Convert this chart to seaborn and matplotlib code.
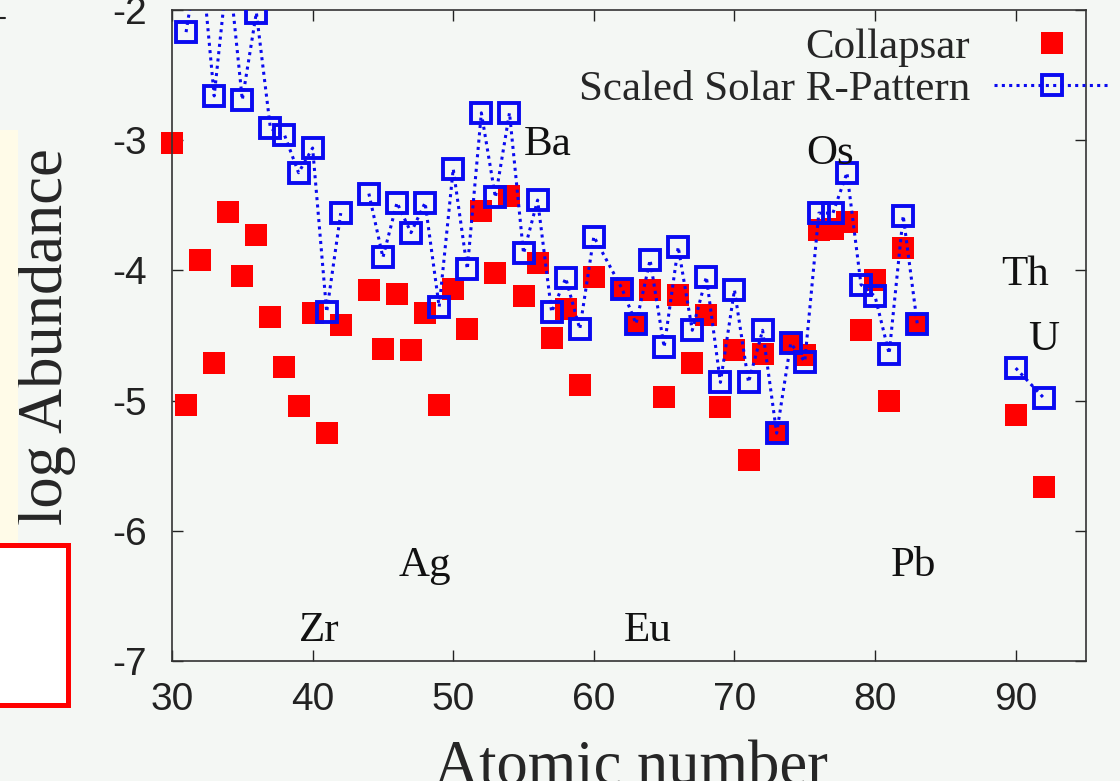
import seaborn as sns
import matplotlib.pyplot as plt
import pandas as pd
from matplotlib.lines import Line2D
from matplotlib.patches import Rectangle

# collapsar model (red filled squares)
z_collapsar = [30, 31, 32, 33, 34, 35, 36, 37, 38, 39, 40, 41, 42,
               44, 45, 46, 47, 48, 49, 50, 51, 52, 53, 54, 55, 56, 57, 58, 59, 60,
               62, 63, 64, 65, 66, 67, 68, 69, 70, 71, 72, 73, 74, 75, 76, 77, 78, 79, 80, 81, 82, 83,
               90, 92]
log_collapsar = [-3.02, -5.03, -3.92, -4.71, -3.55, -4.04, -3.73, -4.36, -4.74, -5.04, -4.33, -5.25, -4.42,
                 -4.15, -4.60, -4.18, -4.61, -4.33, -5.03, -4.14, -4.45, -3.54, -4.02, -3.43, -4.20, -3.94,
                 -4.52, -4.30, -4.88, -4.05,
                 -4.14, -4.41, -4.15, -4.97, -4.19, -4.71, -4.34, -5.05, -4.61, -5.46, -4.64, -5.25, -4.56,
                 -4.65, -3.69, -3.68, -3.63, -4.46, -4.07, -5.00, -3.83, -4.41,
                 -5.11, -5.66]

# scaled solar r-pattern (blue open squares, dotted line)
z_solar = [31, 32, 33, 34, 35, 36, 37, 38, 39, 40, 41, 42,
           44, 45, 46, 47, 48, 49, 50, 51, 52, 53, 54, 55, 56, 57, 58, 59, 60,
           62, 63, 64, 65, 66, 67, 68, 69, 70, 71, 72, 73, 74, 75, 76, 77, 78, 79, 80, 81, 82, 83,
           90, 92]
log_solar = [-2.17, -1.50, -2.66, -1.64, -2.69, -2.02, -2.91, -2.96, -3.25, -3.06, -4.32, -3.56,
             -3.41, -3.90, -3.48, -3.71, -3.48, -4.28, -3.22, -3.99, -2.79, -3.44, -2.79, -3.87, -3.46,
             -4.32, -4.06, -4.45, -3.74,
             -4.14, -4.41, -3.92, -4.59, -3.82, -4.46, -4.05, -4.86, -4.15, -4.86, -4.46, -5.25, -4.56,
             -4.70, -3.56, -3.56, -3.25, -4.11, -4.20, -4.64, -3.58, -4.41,
             -4.75, -4.98]
# line breaks at Tc (43) and between Bi and Th
seg_solar = [0] * 12 + [1] * 39 + [2] * 2

element_labels = ['Ba', 'Os', 'Th', 'U', 'Ag', 'Zr', 'Eu', 'Pb']
label_x = [56.7, 76.8, 90.65, 92.0, 48.0, 40.5, 63.8, 82.7]
label_y = [-3.11, -3.18, -4.11, -4.61, -6.35, -6.85, -6.85, -6.35]

red = '#ff0000'
blue = '#0a0af0'
bg = '#f4f7f4'
serif = ['Liberation Serif', 'DejaVu Serif']
dots = (0, (1, 1.4))

sns.set_style('ticks')
plt.rcParams['font.family'] = ['Liberation Sans', 'DejaVu Sans']
plt.rcParams['axes.unicode_minus'] = False

fig, ax = plt.subplots(figsize=(11.2, 7.81), dpi=100)
fig.patch.set_facecolor(bg)
ax.set_facecolor(bg)
fig.subplots_adjust(left=172 / 1120, right=1086 / 1120, bottom=1 - 661 / 781, top=1 - 10 / 781)

sns.scatterplot(x=z_collapsar, y=log_collapsar, marker='s', s=15.5 ** 2, color=red,
                linewidth=0, ax=ax, zorder=2, clip_on=False)

df_solar = pd.DataFrame({'Z': z_solar, 'logA': log_solar, 'seg': seg_solar})
sns.lineplot(data=df_solar, x='Z', y='logA', units='seg', estimator=None, sort=False,
             color=blue, lw=2.2, linestyle=dots, marker='s', markersize=15,
             markerfacecolor='none', markeredgecolor=blue, markeredgewidth=2.8, ax=ax, zorder=3)

ax.set_xlim(30, 95)
ax.set_ylim(-7, -2)
ax.set_xticks(range(30, 91, 10))
ax.set_yticks(range(-7, -1))
ax.tick_params(direction='in', length=8, width=1, top=True, right=True, labelsize=28,
               colors='#222222')
ax.tick_params(axis='x', pad=15)
ax.tick_params(axis='y', pad=18)
for sp in ax.spines.values():
    sp.set_color('#333333')
    sp.set_linewidth(1.2)

ax.set_xlabel('Atomic number', fontsize=45, family=serif)
ax.xaxis.set_label_coords(0.502, -0.189)
ax.xaxis.label.set_va('baseline')
ax.set_ylabel('log Abundance', fontsize=45, family=serif)
ax.yaxis.set_label_coords(-0.105, 0.499)

for s, x, y in zip(element_labels, label_x, label_y):
    ax.text(x, y, s, fontsize=31, family=serif, ha='center', va='baseline', color='#111111')

handles = [
    Line2D([], [], ls='none', marker='s', ms=15.5, color=red, mew=0),
    Line2D([], [], color=blue, lw=2.2, ls=dots, marker='s', ms=15,
           mfc='none', mec=blue, mew=2.8),
]
ax.legend(handles, ['Collapsar', 'Scaled Solar R-Pattern'], loc='upper right',
          bbox_to_anchor=(1.026, 0.973), frameon=False, markerfirst=False,
          prop=dict(family=serif, size=31), handlelength=2.7, handletextpad=0.55,
          labelspacing=0.08, borderaxespad=0, borderpad=0)

# slide leftovers at the left edge
fig.add_artist(Rectangle((0, 236 / 781), 18 / 1120, 415 / 781, transform=fig.transFigure,
                         facecolor='#fffbe8', edgecolor='none'))
fig.add_artist(Rectangle((-0.01, 76 / 781), 68 / 1120 + 0.01, 160 / 781, transform=fig.transFigure,
                         facecolor='white', edgecolor=red, lw=3.6))
fig.add_artist(Line2D([0, 5 / 1120], [1 - 18 / 781, 1 - 18 / 781], transform=fig.transFigure,
                      color='#222222', lw=1.5))

fig.savefig('out.png', dpi=100, facecolor=bg)
